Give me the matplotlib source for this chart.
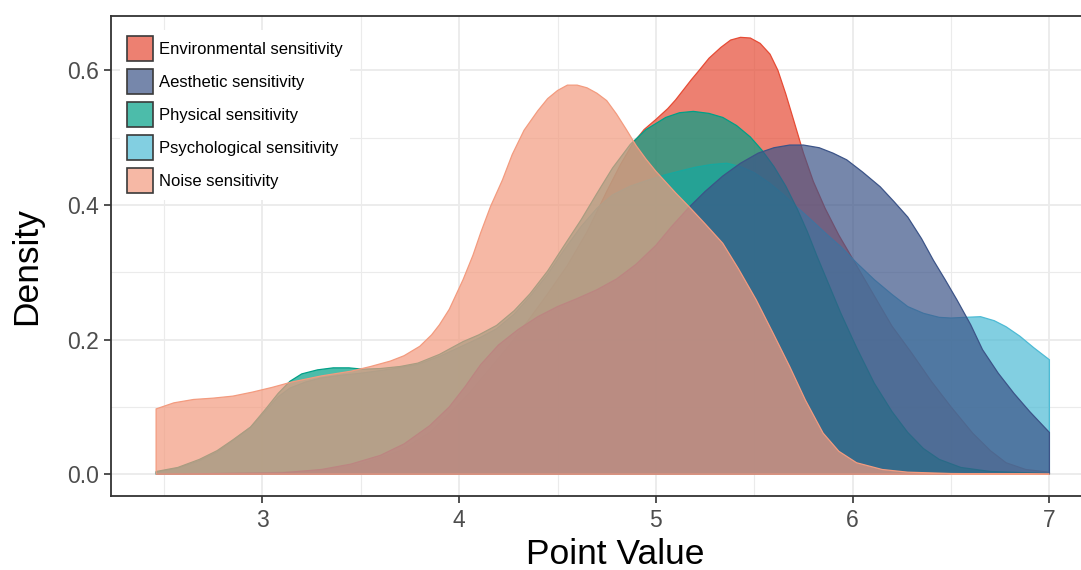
import matplotlib
matplotlib.use('Agg')
import matplotlib.pyplot as plt
from matplotlib.patches import Patch
from matplotlib.colors import to_rgba

plt.rcParams['font.family'] = ['Liberation Sans', 'DejaVu Sans']

labels = ['Environmental sensitivity', 'Aesthetic sensitivity', 'Physical sensitivity',
          'Psychological sensitivity', 'Noise sensitivity']
colours = ['#E64B35', '#3C5488', '#00A087', '#4DBBD5', '#F39B7F']

# density curves
env_x = [2.46, 3.0, 3.3, 3.5, 3.7, 3.85, 3.95, 4.05, 4.15, 4.25, 4.35, 4.45, 4.55, 4.65, 4.75, 4.82,
         4.88, 4.94, 5.0, 5.06, 5.1, 5.14, 5.18, 5.22, 5.27, 5.33, 5.38, 5.43, 5.48, 5.53, 5.58, 5.62,
         5.66, 5.70, 5.75, 5.8, 5.86, 5.93, 6.0, 6.1, 6.2, 6.3, 6.4, 6.5, 6.61, 6.7, 6.78, 6.88, 7.0]
env_y = [0.0, 0.002, 0.006, 0.015, 0.035, 0.062, 0.09, 0.12, 0.155, 0.19, 0.228, 0.268, 0.31, 0.36, 0.42, 0.46,
         0.49, 0.512, 0.527, 0.543, 0.556, 0.571, 0.586, 0.600, 0.618, 0.634, 0.645, 0.649, 0.648, 0.640, 0.624, 0.600,
         0.565, 0.526, 0.477, 0.435, 0.395, 0.355, 0.32, 0.27, 0.22, 0.18, 0.138, 0.10, 0.061, 0.035, 0.017, 0.007, 0.003]

aes_x = [2.46, 3.1, 3.3, 3.45, 3.6, 3.72, 3.85, 3.95, 4.03, 4.11, 4.2, 4.3, 4.4, 4.5, 4.6, 4.7,
         4.8, 4.9, 5.0, 5.08, 5.17, 5.25, 5.34, 5.43, 5.52, 5.6, 5.68, 5.75, 5.83, 5.9, 5.97, 6.05,
         6.14, 6.21, 6.28, 6.35, 6.41, 6.47, 6.53, 6.6, 6.66, 6.74, 6.82, 6.9, 7.0]
aes_y = [0.0, 0.002, 0.007, 0.015, 0.028, 0.045, 0.072, 0.10, 0.13, 0.163, 0.192, 0.215, 0.234, 0.249, 0.261, 0.274,
         0.29, 0.312, 0.34, 0.368, 0.397, 0.42, 0.443, 0.462, 0.477, 0.485, 0.489, 0.489, 0.485, 0.477, 0.467, 0.449,
         0.427, 0.405, 0.382, 0.35, 0.318, 0.289, 0.259, 0.222, 0.185, 0.150, 0.120, 0.093, 0.062]

phy_x = [2.46, 2.57, 2.68, 2.77, 2.85, 2.94, 3.02, 3.08, 3.14, 3.2, 3.28, 3.36, 3.44, 3.51, 3.6, 3.7,
         3.79, 3.9, 4.02, 4.1, 4.19, 4.28, 4.36, 4.45, 4.53, 4.62, 4.70, 4.78, 4.87, 4.95, 5.05, 5.12,
         5.19, 5.27, 5.34, 5.41, 5.48, 5.54, 5.60, 5.66, 5.72, 5.77, 5.82, 5.88, 5.94, 6.02, 6.11, 6.2,
         6.28, 6.36, 6.44, 6.55, 6.7, 7.0]
phy_y = [0.004, 0.01, 0.022, 0.035, 0.051, 0.070, 0.098, 0.12, 0.138, 0.149, 0.155, 0.158, 0.158, 0.156, 0.157, 0.160,
         0.165, 0.178, 0.197, 0.207, 0.221, 0.243, 0.268, 0.302, 0.338, 0.378, 0.417, 0.455, 0.490, 0.512, 0.530, 0.537,
         0.539, 0.536, 0.530, 0.518, 0.501, 0.481, 0.457, 0.428, 0.393, 0.36, 0.323, 0.281, 0.239, 0.188, 0.135, 0.093,
         0.062, 0.038, 0.022, 0.010, 0.004, 0.001]

psy_x = [2.46, 2.57, 2.68, 2.77, 2.85, 2.94, 3.02, 3.08, 3.14, 3.22, 3.3, 3.4, 3.5, 3.65, 3.79, 3.9,
         4.02, 4.1, 4.19, 4.28, 4.36, 4.45, 4.53, 4.62, 4.70, 4.78, 4.87, 4.96, 5.05, 5.13, 5.2, 5.28,
         5.36, 5.43, 5.5, 5.58, 5.65, 5.72, 5.8, 5.87, 5.94, 6.02, 6.11, 6.2, 6.28, 6.36, 6.44, 6.5,
         6.57, 6.65, 6.72, 6.78, 6.85, 6.92, 7.0]
psy_y = [0.003, 0.009, 0.02, 0.033, 0.05, 0.07, 0.095, 0.115, 0.128, 0.137, 0.143, 0.147, 0.150, 0.156, 0.163, 0.175,
         0.191, 0.202, 0.216, 0.238, 0.264, 0.297, 0.332, 0.368, 0.395, 0.415, 0.428, 0.437, 0.445, 0.451, 0.456, 0.460,
         0.462, 0.457, 0.448, 0.432, 0.415, 0.396, 0.375, 0.356, 0.338, 0.314, 0.289, 0.267, 0.249, 0.239, 0.233, 0.232,
         0.233, 0.234, 0.228, 0.219, 0.205, 0.188, 0.170]

noi_x = [2.46, 2.55, 2.65, 2.75, 2.85, 2.95, 3.05, 3.15, 3.3, 3.45, 3.55, 3.65, 3.72, 3.8, 3.86, 3.9,
         3.95, 4.02, 4.07, 4.11, 4.16, 4.22, 4.27, 4.33, 4.4, 4.45, 4.5, 4.55, 4.6, 4.65, 4.7, 4.75,
         4.8, 4.85, 4.9, 4.95, 5.0, 5.1, 5.17, 5.25, 5.34, 5.42, 5.51, 5.6, 5.68, 5.76, 5.85, 5.93,
         6.02, 6.15, 6.28, 6.5, 7.0]
noi_y = [0.097, 0.106, 0.111, 0.113, 0.116, 0.122, 0.129, 0.137, 0.146, 0.153, 0.160, 0.168, 0.176, 0.19, 0.207, 0.222,
         0.245, 0.289, 0.325, 0.359, 0.398, 0.437, 0.475, 0.511, 0.540, 0.558, 0.570, 0.578, 0.578, 0.574, 0.566, 0.555,
         0.535, 0.512, 0.488, 0.468, 0.450, 0.418, 0.397, 0.372, 0.343, 0.305, 0.259, 0.207, 0.160, 0.110, 0.061, 0.034,
         0.017, 0.007, 0.003, 0.001, 0.0]

series = {
    'env': (env_x, env_y, colours[0]),
    'aes': (aes_x, aes_y, colours[1]),
    'phy': (phy_x, phy_y, colours[2]),
    'psy': (psy_x, psy_y, colours[3]),
    'noi': (noi_x, noi_y, colours[4]),
}
# layering seen in the overlaps
draw_order = ['env', 'psy', 'phy', 'aes', 'noi']

fig = plt.figure(figsize=(10.81, 5.70), dpi=100)
ax = fig.add_axes([0.1031, 0.1298, 0.909, 0.842])

for z, key in enumerate(draw_order):
    xs, ys, c = series[key]
    # closed polygon like ggplot's geom_density outline
    px = [xs[0]] + list(xs) + [xs[-1]]
    py = [0.0] + list(ys) + [0.0]
    ax.fill(px, py, facecolor=to_rgba(c, 0.7), edgecolor=c, linewidth=0.9, zorder=3 + z)

ax.set_xlim(2.233, 7.227)
ax.set_ylim(-0.0324, 0.6806)
ax.set_xticks([3, 4, 5, 6, 7])
ax.set_xticks([2.5, 3.5, 4.5, 5.5, 6.5], minor=True)
ax.set_yticks([0.0, 0.2, 0.4, 0.6])
ax.set_yticks([0.1, 0.3, 0.5], minor=True)
ax.set_yticklabels(['0.0', '0.2', '0.4', '0.6'])
ax.grid(which='major', color='#EBEBEB', linewidth=1.3, zorder=0)
ax.grid(which='minor', color='#EBEBEB', linewidth=0.8, zorder=0)
ax.set_axisbelow(True)
ax.tick_params(which='major', length=5, width=1.2, color='#333333', labelsize=16.5,
               labelcolor='#4D4D4D', pad=4)
ax.tick_params(which='minor', length=0)
for s in ax.spines.values():
    s.set_color('#333333')
    s.set_linewidth(1.3)

ax.set_xlabel('Point Value', fontsize=25.5)
ax.set_ylabel('Density', fontsize=25.5)
ax.xaxis.set_label_coords(0.5125, -0.087)
ax.yaxis.set_label_coords(-0.07, 0.48)

handles = [Patch(facecolor=to_rgba(c, 0.7), edgecolor='#3a3a3a', linewidth=1.2) for c in colours]
leg = ax.legend(handles, labels, loc='upper left', bbox_to_anchor=(0.0088, 0.972), borderaxespad=0,
                prop={'size': 12}, handlelength=1.56, handleheight=1.93, labelspacing=0.48,
                handletextpad=0.4, borderpad=0.4, frameon=True, fancybox=False)
leg.get_frame().set_facecolor('white')
leg.get_frame().set_edgecolor('none')
leg.get_frame().set_alpha(1)
leg.set_zorder(10)

fig.savefig('out.png', dpi=100)
